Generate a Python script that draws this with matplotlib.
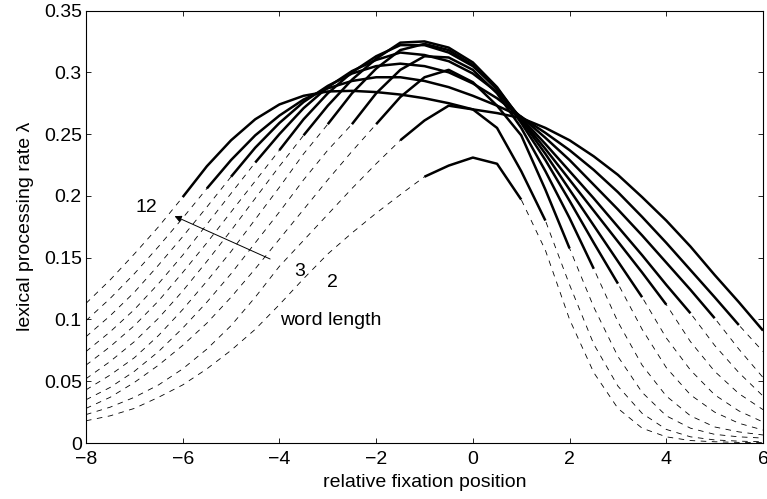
import numpy as np
import matplotlib
matplotlib.use('Agg')
import matplotlib.pyplot as plt
from matplotlib import rcParams
rcParams.update({'font.size': 14, 'font.family': 'Liberation Sans', 'lines.scale_dashes': False})

# relative fixation position (letters from word centre)
fix_pos = [-8, -7.5, -7, -6.5, -6, -5.5, -5, -4.5, -4, -3.5, -3, -2.5, -2, -1.5, -1,
           -0.5, 0, 0.5, 1, 1.5, 2, 2.5, 3, 3.5, 4, 4.5, 5, 5.5, 6]

word_lengths = [2, 3, 4, 5, 6, 7, 8, 9, 10, 11, 12]

# lexical processing rate
rate_L2 = [0.018, 0.022, 0.028, 0.037, 0.047, 0.060, 0.075, 0.092, 0.112, 0.133, 0.153, 0.170, 0.186, 0.201, 0.2155,
           0.2245, 0.231, 0.226, 0.197, 0.156, 0.100, 0.057, 0.028, 0.012, 0.005, 0.002, 0.001, 0.0005, 0.0003]
rate_L3 = [0.023, 0.029, 0.037, 0.047, 0.060, 0.076, 0.095, 0.118, 0.143, 0.164, 0.185, 0.206, 0.226, 0.245, 0.261,
           0.273, 0.270, 0.255, 0.220, 0.180, 0.128, 0.080, 0.046, 0.024, 0.011, 0.005, 0.0025, 0.0015, 0.001]
rate_L4 = [0.028, 0.037, 0.049, 0.063, 0.079, 0.097, 0.118, 0.141, 0.165, 0.189, 0.213, 0.236, 0.258, 0.280, 0.296,
           0.302, 0.292, 0.273, 0.249, 0.205, 0.1575, 0.110, 0.070, 0.041, 0.022, 0.012, 0.007, 0.005, 0.004]
rate_L5 = [0.035, 0.045, 0.058, 0.074, 0.093, 0.114, 0.137, 0.162, 0.187, 0.213, 0.237, 0.258, 0.283, 0.302, 0.313,
           0.312, 0.302, 0.283, 0.255, 0.220, 0.182, 0.141, 0.098, 0.063, 0.038, 0.022, 0.013, 0.009, 0.0065]
rate_L6 = [0.043, 0.055, 0.069, 0.087, 0.108, 0.131, 0.155, 0.181, 0.207, 0.234, 0.258, 0.283, 0.303, 0.318, 0.323,
           0.318, 0.306, 0.286, 0.259, 0.229, 0.196, 0.162, 0.129, 0.092, 0.061, 0.039, 0.025, 0.016, 0.0105]
rate_L7 = [0.052, 0.066, 0.082, 0.101, 0.123, 0.147, 0.172, 0.198, 0.224, 0.249, 0.273, 0.294, 0.311, 0.324, 0.325,
           0.320, 0.308, 0.288, 0.261, 0.234, 0.205, 0.176, 0.147, 0.118, 0.085, 0.059, 0.039, 0.026, 0.017]
rate_L8 = [0.063, 0.078, 0.095, 0.115, 0.138, 0.162, 0.187, 0.212, 0.237, 0.262, 0.283, 0.300, 0.313, 0.322, 0.322,
           0.316, 0.305, 0.287, 0.262, 0.238, 0.213, 0.188, 0.163, 0.138, 0.112, 0.082, 0.058, 0.040, 0.027]
rate_L9 = [0.074, 0.090, 0.108, 0.129, 0.152, 0.177, 0.202, 0.227, 0.250, 0.271, 0.288, 0.301, 0.310, 0.316, 0.314,
           0.309, 0.299, 0.284, 0.263, 0.242, 0.220, 0.198, 0.175, 0.152, 0.128, 0.105, 0.079, 0.057, 0.038]
rate_L10 = [0.086, 0.103, 0.122, 0.144, 0.167, 0.191, 0.2155, 0.239, 0.259, 0.276, 0.289, 0.299, 0.305, 0.307, 0.305,
            0.300, 0.291, 0.279, 0.264, 0.247, 0.229, 0.209, 0.189, 0.168, 0.146, 0.124, 0.101, 0.076, 0.053]
rate_L11 = [0.099, 0.117, 0.137, 0.159, 0.182, 0.206, 0.229, 0.249, 0.265, 0.278, 0.287, 0.293, 0.296, 0.296, 0.293,
            0.288, 0.281, 0.273, 0.264, 0.251, 0.237, 0.221, 0.203, 0.183, 0.162, 0.140, 0.118, 0.0955, 0.074]
rate_L12 = [0.113, 0.132, 0.153, 0.175, 0.199, 0.224, 0.245, 0.262, 0.274, 0.281, 0.2845, 0.285, 0.284, 0.282, 0.279,
            0.275, 0.270, 0.267, 0.263, 0.255, 0.245, 0.232, 0.217, 0.199, 0.180, 0.159, 0.136, 0.114, 0.091]

rates = [rate_L2, rate_L3, rate_L4, rate_L5, rate_L6, rate_L7,
         rate_L8, rate_L9, rate_L10, rate_L11, rate_L12]

xticks = [-8, -6, -4, -2, 0, 2, 4, 6]
yticks = [0, 0.05, 0.1, 0.15, 0.2, 0.25, 0.3, 0.35]
ytick_labels = ['0', '0.05', '0.1', '0.15', '0.2', '0.25', '0.3', '0.35']

fig = plt.figure(figsize=(7.67, 4.99), dpi=100)
ax = fig.add_axes([0.1121, 0.1122, 0.8827, 0.8667])

x = np.array(fix_pos)
for L, lam in zip(word_lengths, rates):
    lam = np.array(lam)
    # whole curve dashed, the part inside the word drawn solid
    ax.plot(x, lam, color='k', lw=0.6, dashes=(4, 4))
    inside = (x >= -L/2) & (x <= L/2)
    ax.plot(x[inside], lam[inside], color='k', lw=1.8, solid_capstyle='butt')

ax.text(-6.76, 0.1905, '12', ha='center', va='center')
ax.text(-3.59, 0.139, '3', ha='center', va='center')
ax.text(-2.9, 0.130, '2', ha='center', va='center')
ax.text(-3.99, 0.0995, 'word length', ha='left', va='center')
ax.annotate('', xy=(-6.22, 0.1845), xytext=(-4.14, 0.148),
            arrowprops=dict(arrowstyle='-|>', lw=0.7, color='k', mutation_scale=10))

ax.set_xlim(-8, 6)
ax.set_ylim(0, 0.35)
ax.set_xticks(xticks)
ax.set_yticks(yticks)
ax.set_yticklabels(ytick_labels)
ax.tick_params(direction='in', top=True, right=True, length=3.5, width=0.6, pad=3)
ax.tick_params(axis='x', pad=6)
for s in ax.spines.values():
    s.set_linewidth(0.8)
ax.set_xlabel('relative fixation position', labelpad=4)
ax.set_ylabel('lexical processing rate λ', labelpad=7)

fig.savefig('out.png', dpi=100)
